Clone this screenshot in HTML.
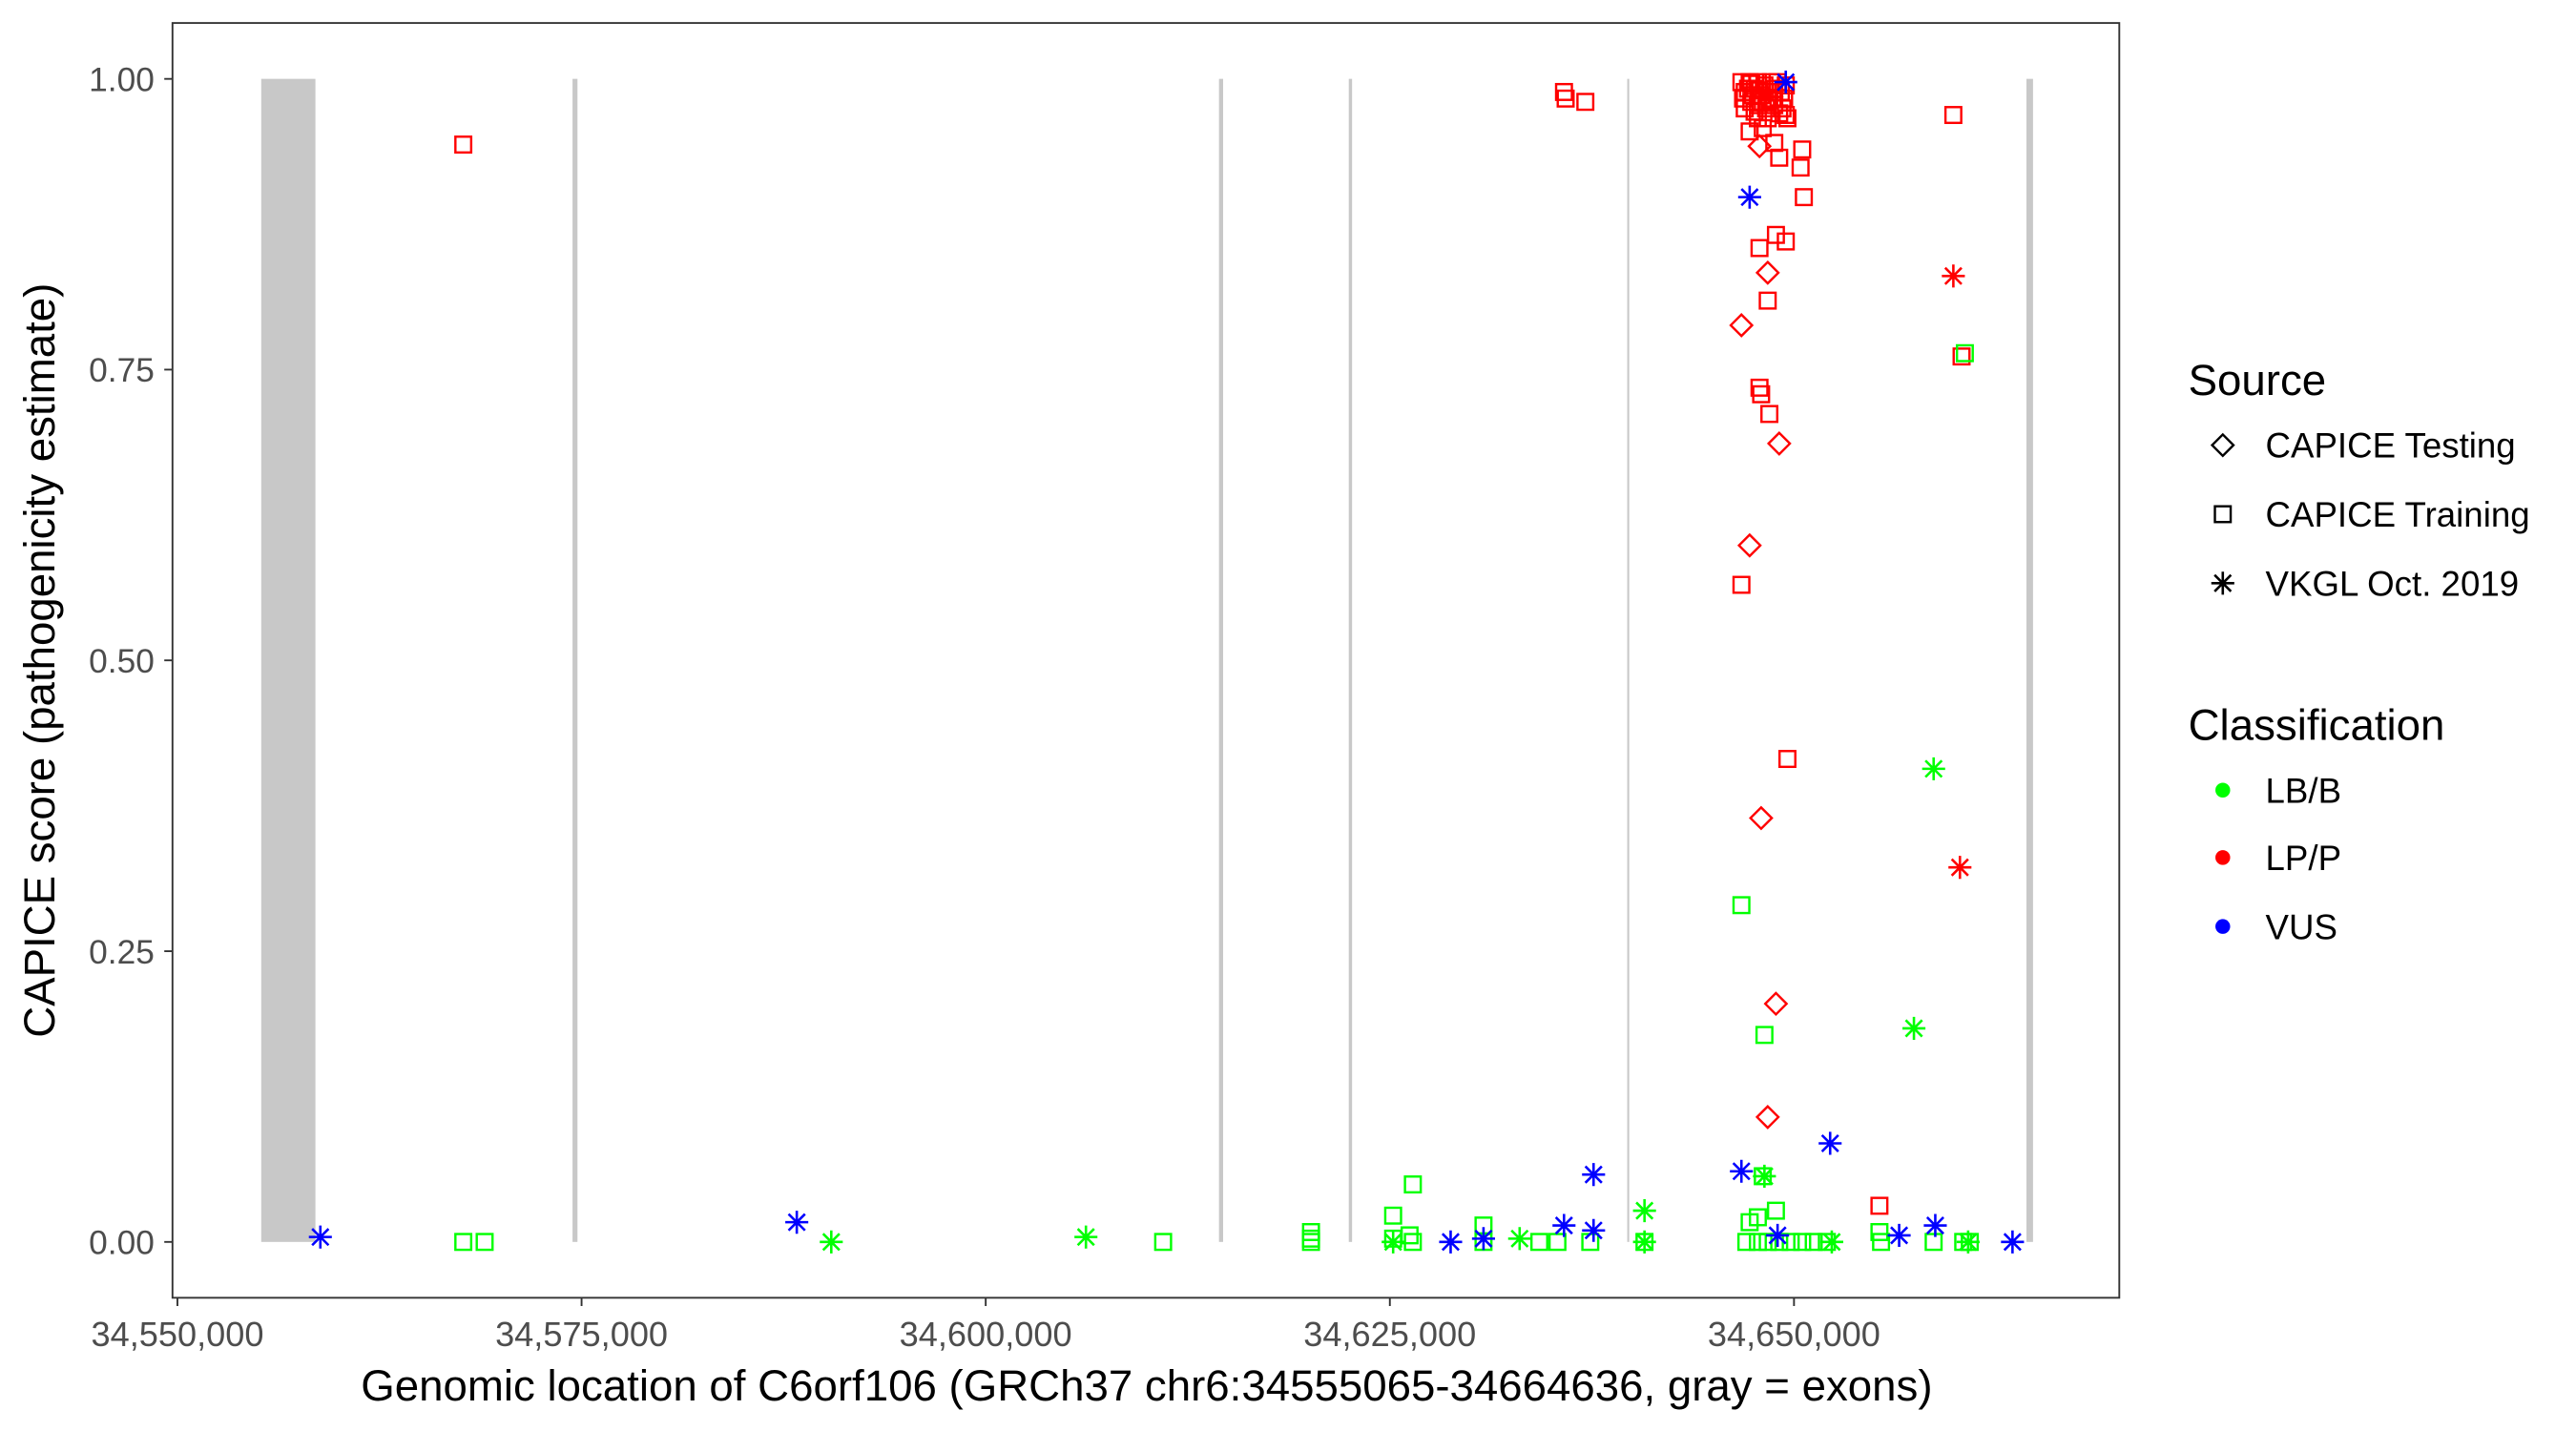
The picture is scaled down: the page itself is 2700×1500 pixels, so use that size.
<!DOCTYPE html>
<html><head><meta charset="utf-8"><style>
html,body{margin:0;padding:0;background:#fff;}
svg{display:block;}
text{font-family:"Liberation Sans",Arial,sans-serif;}
</style></head><body>
<svg width="2700" height="1500" viewBox="0 0 1568 871.1" preserveAspectRatio="none" xmlns="http://www.w3.org/2000/svg">
<defs>
<g id="s"><rect x="-4.8" y="-4.8" width="9.6" height="9.6" fill="none" stroke-width="1.4"/></g>
<g id="d"><path d="M0,-6.5 L6.5,0 L0,6.5 L-6.5,0Z" fill="none" stroke-width="1.4"/></g>
<g id="a" stroke-width="1.5"><path d="M-7,0H7M0,-7V7M-5,-5L5,5M-5,5L5,-5" fill="none"/></g>
</defs>
<rect x="0" y="0" width="1568" height="871.1" fill="#fff"/>
<rect x="159" y="48" width="33" height="708" fill="#c8c8c8"/>
<rect x="348.5" y="48" width="3" height="708" fill="#c8c8c8"/>
<rect x="742" y="48" width="2.5" height="708" fill="#c8c8c8"/>
<rect x="821" y="48" width="2" height="708" fill="#c8c8c8"/>
<rect x="990.5" y="48" width="1.2" height="708" fill="#c8c8c8"/>
<rect x="1233.5" y="48" width="4" height="708" fill="#c8c8c8"/>
<g stroke="#ff0000">
<use href="#s" x="282" y="88"/><use href="#s" x="952" y="56"/><use href="#s" x="953" y="60"/><use href="#s" x="965" y="62"/>
<use href="#s" x="1060" y="50"/><use href="#s" x="1062" y="56"/><use href="#s" x="1065" y="50"/><use href="#s" x="1068" y="54"/><use href="#s" x="1070" y="50"/><use href="#s" x="1072" y="58"/><use href="#s" x="1074" y="52"/><use href="#s" x="1076" y="56"/><use href="#s" x="1078" y="50"/><use href="#s" x="1080" y="54"/><use href="#s" x="1082" y="50"/><use href="#s" x="1084" y="56"/><use href="#s" x="1086" y="60"/><use href="#s" x="1061" y="60"/><use href="#s" x="1066" y="62"/><use href="#s" x="1070" y="64"/><use href="#s" x="1075" y="66"/><use href="#s" x="1080" y="64"/><use href="#s" x="1085" y="66"/><use href="#s" x="1088" y="72"/><use href="#s" x="1064" y="54"/><use href="#s" x="1067" y="58"/><use href="#s" x="1073" y="62"/><use href="#s" x="1079" y="60"/><use href="#s" x="1087" y="52"/>
<use href="#s" x="1062" y="66"/><use href="#s" x="1068" y="68"/><use href="#s" x="1077" y="61"/><use href="#s" x="1083" y="69"/><use href="#s" x="1071" y="55"/><use href="#s" x="1066" y="51"/>
<use href="#s" x="1065" y="80"/><use href="#s" x="1073" y="78"/><use href="#s" x="1076" y="72"/><use href="#s" x="1080" y="87"/><use href="#s" x="1083" y="96"/><use href="#s" x="1087" y="70"/><use href="#s" x="1070" y="72"/>
<use href="#s" x="1189" y="70"/><use href="#s" x="1097" y="91"/><use href="#s" x="1096" y="102"/><use href="#s" x="1098" y="120"/>
<use href="#s" x="1081" y="143"/><use href="#s" x="1087" y="147"/><use href="#s" x="1071" y="151"/><use href="#s" x="1076" y="183"/>
<use href="#s" x="1071" y="236"/><use href="#s" x="1072" y="240"/><use href="#s" x="1077" y="252"/><use href="#s" x="1194" y="217"/>
<use href="#s" x="1060" y="356"/><use href="#s" x="1088" y="462"/><use href="#s" x="1144" y="734"/>
<use href="#d" x="1071" y="89"/><use href="#d" x="1076" y="166"/><use href="#d" x="1060" y="198"/><use href="#d" x="1083" y="270"/><use href="#d" x="1065" y="332"/><use href="#d" x="1072" y="498"/><use href="#d" x="1081" y="611"/><use href="#d" x="1076" y="680"/>
<use href="#a" x="1189" y="168"/><use href="#a" x="1193" y="528"/>
</g>
<g stroke="#00ff00">
<use href="#s" x="282" y="756"/><use href="#s" x="295" y="756"/><use href="#s" x="708" y="756"/><use href="#s" x="798" y="750"/><use href="#s" x="798" y="754"/><use href="#s" x="798" y="756"/>
<use href="#s" x="860" y="721"/><use href="#s" x="848" y="740"/><use href="#s" x="848" y="754"/><use href="#s" x="858" y="752"/><use href="#s" x="860" y="756"/><use href="#s" x="903" y="746"/><use href="#s" x="903" y="756"/><use href="#s" x="937" y="756"/><use href="#s" x="948" y="756"/><use href="#s" x="968" y="756"/><use href="#s" x="1001" y="756"/>
<use href="#s" x="1060" y="551"/><use href="#s" x="1074" y="630"/><use href="#s" x="1073" y="716"/><use href="#s" x="1065" y="744"/><use href="#s" x="1070" y="741"/><use href="#s" x="1081" y="737"/>
<use href="#s" x="1063" y="756"/><use href="#s" x="1070" y="756"/><use href="#s" x="1076" y="756"/><use href="#s" x="1083" y="756"/><use href="#s" x="1090" y="756"/><use href="#s" x="1097" y="756"/><use href="#s" x="1104" y="756"/><use href="#s" x="1112" y="756"/>
<use href="#s" x="1144" y="750"/><use href="#s" x="1145" y="756"/><use href="#s" x="1177" y="756"/><use href="#s" x="1196" y="215"/><use href="#s" x="1195" y="756"/><use href="#s" x="1199" y="756"/>
<use href="#a" x="506" y="756"/><use href="#a" x="661" y="753"/><use href="#a" x="848" y="756"/><use href="#a" x="925" y="754"/><use href="#a" x="1001" y="737"/><use href="#a" x="1001" y="756"/><use href="#a" x="1177" y="468"/><use href="#a" x="1165" y="626"/><use href="#a" x="1074" y="716"/><use href="#a" x="1115" y="756"/><use href="#a" x="1198" y="756"/>
</g>
<g stroke="#0000ff">
<use href="#a" x="195" y="753"/><use href="#a" x="485" y="744"/><use href="#a" x="1065" y="120"/><use href="#a" x="1087" y="50"/><use href="#a" x="970" y="715"/><use href="#a" x="1060" y="713"/><use href="#a" x="1114" y="696"/><use href="#a" x="952" y="746"/><use href="#a" x="970" y="749"/><use href="#a" x="883" y="756"/><use href="#a" x="903" y="754"/><use href="#a" x="1082" y="752"/><use href="#a" x="1156" y="752"/><use href="#a" x="1178" y="746"/><use href="#a" x="1225" y="756"/>
</g>
<rect x="105" y="14" width="1185" height="776" fill="none" stroke="#333" stroke-width="1.1"/>
<g stroke="#333" stroke-width="1.1">
<path d="M100,48H105M100,225H105M100,402H105M100,579H105M100,756H105"/>
<path d="M108,790V795M354,790V795M600,790V795M846,790V795M1092,790V795"/>
</g>
<g font-size="20.5" fill="#4d4d4d" text-anchor="end">
<text x="94" y="55.4">1.00</text><text x="94" y="232.4">0.75</text><text x="94" y="409.4">0.50</text><text x="94" y="586.4">0.25</text><text x="94" y="763.4">0.00</text>
</g>
<g font-size="21" fill="#4d4d4d" text-anchor="middle">
<text x="108" y="819.5">34,550,000</text><text x="354" y="819.5">34,575,000</text><text x="600" y="819.5">34,600,000</text><text x="846" y="819.5">34,625,000</text><text x="1092" y="819.5">34,650,000</text>
</g>
<text x="698" y="852.5" font-size="26.5" text-anchor="middle">Genomic location of C6orf106 (GRCh37 chr6:34555065-34664636, gray = exons)</text>
<text transform="translate(33,402) rotate(-90)" font-size="26.5" text-anchor="middle">CAPICE score (pathogenicity estimate)</text>
<text x="1332" y="240.5" font-size="26.5">Source</text>
<g stroke="#000"><use href="#d" x="1353" y="271"/><use href="#s" x="1353" y="313"/><use href="#a" x="1353" y="355"/></g>
<g font-size="21.3"><text x="1379" y="278.6">CAPICE Testing</text><text x="1379" y="320.6">CAPICE Training</text><text x="1379" y="362.6">VKGL Oct. 2019</text></g>
<text x="1332" y="450.5" font-size="26.5">Classification</text>
<circle cx="1353" cy="481" r="4.5" fill="#00ff00"/><circle cx="1353" cy="522" r="4.5" fill="#ff0000"/><circle cx="1353" cy="564" r="4.5" fill="#0000ff"/>
<g font-size="21.3"><text x="1379" y="488.6">LB/B</text><text x="1379" y="529.6">LP/P</text><text x="1379" y="571.6">VUS</text></g>
</svg>
</body></html>
